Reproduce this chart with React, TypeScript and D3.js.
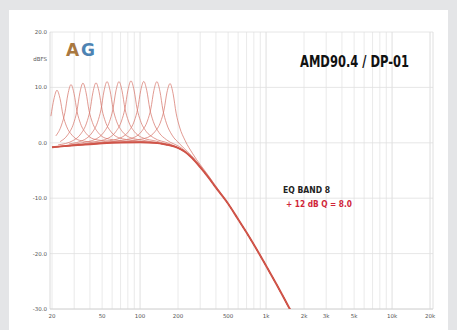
import React from "react";
import * as d3 from "d3";

// ---- data ----
const baseFreqs = [20, 25, 30, 40, 50, 70, 100, 130, 160, 200, 230, 260, 300, 350, 400, 500, 600, 700, 850, 1000, 1200, 1560];
const baseDb = [-0.8, -0.6, -0.45, -0.25, -0.1, 0.05, 0.1, 0, -0.3, -0.9, -1.7, -2.8, -4.4, -6.3, -8.1, -11, -13.8, -16.2, -19.4, -22.2, -25.4, -30.2];

const peakCenters = [21.9, 28.3, 35.2, 44.7, 54.7, 68, 84.7, 107, 136, 173];
const peakGains = [10.2, 11, 11.1, 11, 11.1, 11, 11.1, 11, 11.1, 11.2];

// peak shape: offset in octaves, level relative to peak gain
const shapeOffsets = [-1.6, -1.0, -0.6, -0.4, -0.25, -0.16, -0.08, 0, 0.08, 0.16, 0.25, 0.4, 0.6, 1.0, 1.6];
const shapeLevels = [0, 0.03, 0.08, 0.18, 0.35, 0.55, 0.85, 1, 0.85, 0.55, 0.35, 0.18, 0.08, 0.03, 0];

const xTicks = [20, 50, 100, 200, 500, 1000, 2000, 3000, 5000, 10000, 20000];
const xTickLabels = ["20", "50", "100", "200", "500", "1k", "2k", "3k", "5k", "10k", "20k"];
const yTicks = [20, 10, 0, -10, -20, -30];
const yTickLabels = ["20.0", "10.0", "0.0", "-10.0", "-20.0", "-30.0"];
const yUnit = "dBFS";

const title = "AMD90.4 / DP-01";
const noteLine1 = "EQ BAND 8";
const noteLine2 = "+ 12 dB  Q = 8.0";

// ---- layout ----
const W = 457;
const H = 330;
const left = 52;
const right = 430;
const top = 32;
const bottom = 309;

export default function App() {
  const x = d3.scaleLog().domain([20, 20000]).range([left, right]);
  const y = d3.scaleLinear().domain([-30, 20]).range([bottom, top]);
  const base = d3.scaleLog().domain(baseFreqs).range(baseDb).clamp(true);

  const gridFreqs: number[] = [];
  [10, 100, 1000, 10000].forEach((d) => {
    for (let k = 1; k <= 9; k++) {
      const f = d * k;
      if (f >= 20 && f <= 20000) gridFreqs.push(f);
    }
  });
  gridFreqs.push(20000);

  const line = d3
    .line<[number, number]>()
    .x((d) => x(d[0]))
    .y((d) => y(d[1]))
    .curve(d3.curveMonotoneX);

  const basePts: [number, number][] = baseFreqs.map((f, i) => [f, baseDb[i]]);

  const peakPaths = peakCenters.map((fc, i) => {
    const lo = fc * Math.pow(2, shapeOffsets[0]);
    const hi = fc * Math.pow(2, shapeOffsets[shapeOffsets.length - 1]);
    const pts: [number, number][] = [];
    basePts.forEach((p) => {
      if (p[0] < lo || p[0] > hi) pts.push(p);
    });
    shapeOffsets.forEach((o, k) => {
      const f = fc * Math.pow(2, o);
      if (f >= 19) pts.push([f, base(f) + peakGains[i] * shapeLevels[k]]);
    });
    pts.sort((a, b) => a[0] - b[0]);
    return line(pts) || "";
  });

  const font = "'DejaVu Sans', sans-serif";

  return (
    <svg
      width={W}
      height={H}
      style={{ position: "absolute", left: 0, top: 0, display: "block" }}
    >
      <defs>
        <clipPath id="plot">
          <rect x={left - 2} y={top} width={right - left + 4} height={bottom - top} />
        </clipPath>
      </defs>
      <rect x={0} y={0} width={W} height={H} fill="#e4e5e7" />
      <rect x={9} y={10} width={439} height={H - 10} fill="#ffffff" />

      {/* grid */}
      {gridFreqs.map((f, i) => (
        <line
          key={"vg" + i}
          x1={x(f)}
          x2={x(f)}
          y1={top}
          y2={bottom}
          stroke={[100, 1000, 10000].includes(f) ? "#d6d6d6" : "#e4e4e4"}
          strokeWidth={0.8}
        />
      ))}
      {yTicks.map((t, i) => (
        <line
          key={"hg" + i}
          x1={left - 2}
          x2={right + 3}
          y1={y(t)}
          y2={y(t)}
          stroke="#e0e0e0"
          strokeWidth={0.8}
        />
      ))}
      <line x1={left - 2} x2={left - 2} y1={top} y2={bottom} stroke="#d0d0d0" strokeWidth={0.8} />
      <line x1={left - 2} x2={right + 3} y1={bottom} y2={bottom} stroke="#d0d0d0" strokeWidth={0.8} />
      <line x1={right + 3} x2={right + 3} y1={top} y2={bottom} stroke="#d8d8d8" strokeWidth={0.8} />

      {/* y labels */}
      {yTicks.map((t, i) => (
        <text
          key={"yl" + i}
          x={left - 5}
          y={y(t)}
          dy="0.35em"
          textAnchor="end"
          fontFamily={font}
          fontSize={5.5}
          fill="#555"
        >
          {yTickLabels[i]}
        </text>
      ))}
      <text x={left - 5} y={59} dy="0.35em" textAnchor="end" fontFamily={font} fontSize={5.5} fill="#555">
        {yUnit}
      </text>

      {/* x labels */}
      {xTicks.map((t, i) => (
        <text
          key={"xl" + i}
          x={x(t)}
          y={316}
          dy="0.35em"
          textAnchor="middle"
          fontFamily={font}
          fontSize={5.5}
          fill="#555"
        >
          {xTickLabels[i]}
        </text>
      ))}

      {/* curves */}
      <g clipPath="url(#plot)">
        {peakPaths.map((d, i) => (
          <path key={"pk" + i} d={d} fill="none" stroke="#d77a70" strokeWidth={0.9} strokeOpacity={0.85} />
        ))}
        <path d={line(basePts) || ""} fill="none" stroke="#cf5449" strokeWidth={2} />
      </g>

      {/* logo */}
      <text x={66} y={56} fontFamily={font} fontWeight="bold" fontSize={17} fill="#a97840">
        A
      </text>
      <text x={81} y={56} fontFamily={font} fontWeight="bold" fontSize={17} fill="#4d83b3">
        G
      </text>

      {/* title */}
      <text
        x={300}
        y={67}
        fontFamily={font}
        fontWeight="bold"
        fontSize={15}
        fill="#111"
        textLength={109}
        lengthAdjust="spacingAndGlyphs"
      >
        {title}
      </text>

      {/* note */}
      <text
        x={283}
        y={193}
        fontFamily={font}
        fontWeight="bold"
        fontSize={8}
        fill="#222"
        textLength={47}
        lengthAdjust="spacingAndGlyphs"
      >
        {noteLine1}
      </text>
      <text
        x={286}
        y={207}
        fontFamily={font}
        fontWeight="bold"
        fontSize={8}
        fill="#d0263a"
        textLength={66}
        lengthAdjust="spacingAndGlyphs"
      >
        {noteLine2}
      </text>
    </svg>
  );
}
